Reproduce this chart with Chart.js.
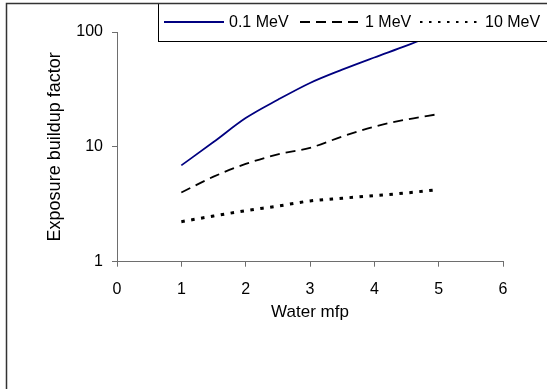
<!DOCTYPE html>
<html lang="en">
  <head>
    <meta charset="UTF-8" />
    <script src="https://cdn.jsdelivr.net/npm/chart.js"></script>
    <title>Exposure buildup factor</title>
    <style>
      body { margin: 0; background: #fff; }
    </style>
  </head>
  <body>
    <div style="width: 547px; height: 389px; position: relative">
      <canvas id="grafico"></canvas>
    </div>

    <script>
      // data
      const mfp = [1, 1.5, 2, 2.5, 3, 3.5, 4, 4.5, 5];
      const serie01 = [6.9, 11.0, 17.8, 25.7, 36, 47, 60, 76, 98];
      const serie1 = [4.0, 5.5, 7.1, 8.6, 9.8, 12.3, 15.0, 17.3, 19.3];
      const serie10 = [2.23, 2.5, 2.78, 3.05, 3.38, 3.57, 3.76, 3.97, 4.25];
      const nomes = ["0.1 MeV", "1 MeV", "10 MeV"];
      const yTicks = [1, 10, 100];
      const xTicks = [0, 1, 2, 3, 4, 5, 6];

      const pontos = (vals) => mfp.map((x, i) => ({ x: x, y: vals[i] }));
      const fonte = "'Liberation Sans', Arial, sans-serif";
      const eixoCor = "#6e6e6e";

      // frame + legend drawn over the plot like the original
      const molduraLegenda = {
        id: "molduraLegenda",
        afterDraw(chart) {
          const ctx = chart.ctx;
          ctx.save();
          ctx.fillStyle = "#fff";
          ctx.fillRect(158.5, 3.5, 400, 38);
          ctx.strokeStyle = "#000";
          ctx.lineWidth = 1;
          ctx.strokeRect(158.5, 3.5, 400, 38);

          const xs = [164, 300, 420];
          chart.data.datasets.forEach((ds, i) => {
            ctx.beginPath();
            ctx.strokeStyle = ds.borderColor;
            ctx.lineWidth = i === 2 ? 2 : ds.borderWidth;
            ctx.setLineDash(i === 2 ? [2.5, 6.5] : ds.borderDash || []);
            ctx.moveTo(xs[i], 22);
            ctx.lineTo(xs[i] + 60, 22);
            ctx.stroke();
            ctx.setLineDash([]);
            ctx.fillStyle = "#000";
            ctx.font = "16px " + fonte;
            ctx.textBaseline = "middle";
            ctx.fillText(ds.label, xs[i] + 65, 23);
          });

          // outer frame (only left and top visible)
          ctx.beginPath();
          ctx.strokeStyle = "#333";
          ctx.lineWidth = 1.5;
          ctx.moveTo(6.5, 389);
          ctx.lineTo(6.5, 3.5);
          ctx.lineTo(547, 3.5);
          ctx.stroke();
          ctx.restore();
        },
      };

      const ctx = document.getElementById("grafico");
      new Chart(ctx, {
        type: "line",
        data: {
          datasets: [
            {
              label: nomes[0],
              data: pontos(serie01),
              borderColor: "#000080",
              borderWidth: 1.8,
              pointRadius: 0,
              cubicInterpolationMode: "monotone",
            },
            {
              label: nomes[1],
              data: pontos(serie1),
              borderColor: "#000",
              borderWidth: 1.8,
              borderDash: [10, 6],
              pointRadius: 0,
              cubicInterpolationMode: "monotone",
            },
            {
              label: nomes[2],
              data: pontos(serie10),
              borderColor: "#000",
              borderWidth: 3,
              borderDash: [3.5, 6.5],
              pointRadius: 0,
              cubicInterpolationMode: "monotone",
            },
          ],
        },
        options: {
          responsive: true,
          maintainAspectRatio: false,
          animation: false,
          layout: { padding: { top: 32, right: 44, bottom: 0, left: 0 } },
          plugins: { legend: { display: false }, tooltip: { enabled: false } },
          scales: {
            x: {
              type: "linear",
              min: 0,
              max: 6,
              afterBuildTicks: (s) => { s.ticks = xTicks.map((v) => ({ value: v })); },
              afterFit: (s) => { s.height = 127.3; },
              grid: { drawOnChartArea: false, drawTicks: true, tickLength: 5, color: eixoCor },
              border: { display: true, color: eixoCor, width: 1 },
              ticks: { color: "#000", padding: 13, font: { family: fonte, size: 16 } },
              title: {
                display: true,
                text: "Water mfp",
                color: "#000",
                font: { family: fonte, size: 17 },
                padding: { top: 0, bottom: 66 },
              },
            },
            y: {
              type: "logarithmic",
              min: 1,
              max: 100,
              afterBuildTicks: (s) => { s.ticks = yTicks.map((v) => ({ value: v })); },
              afterFit: (s) => { s.width = 117; },
              grid: { drawOnChartArea: false, drawTicks: true, tickLength: 5, color: eixoCor },
              border: { display: true, color: eixoCor, width: 1 },
              ticks: {
                color: "#000",
                padding: 9,
                font: { family: fonte, size: 16 },
                callback: (v) => String(v),
              },
              title: {
                display: true,
                text: "Exposure buildup factor",
                color: "#000",
                font: { family: fonte, size: 18 },
                padding: { top: 44, bottom: 0 },
              },
            },
          },
        },
        plugins: [molduraLegenda],
      });
    </script>
  </body>
</html>
